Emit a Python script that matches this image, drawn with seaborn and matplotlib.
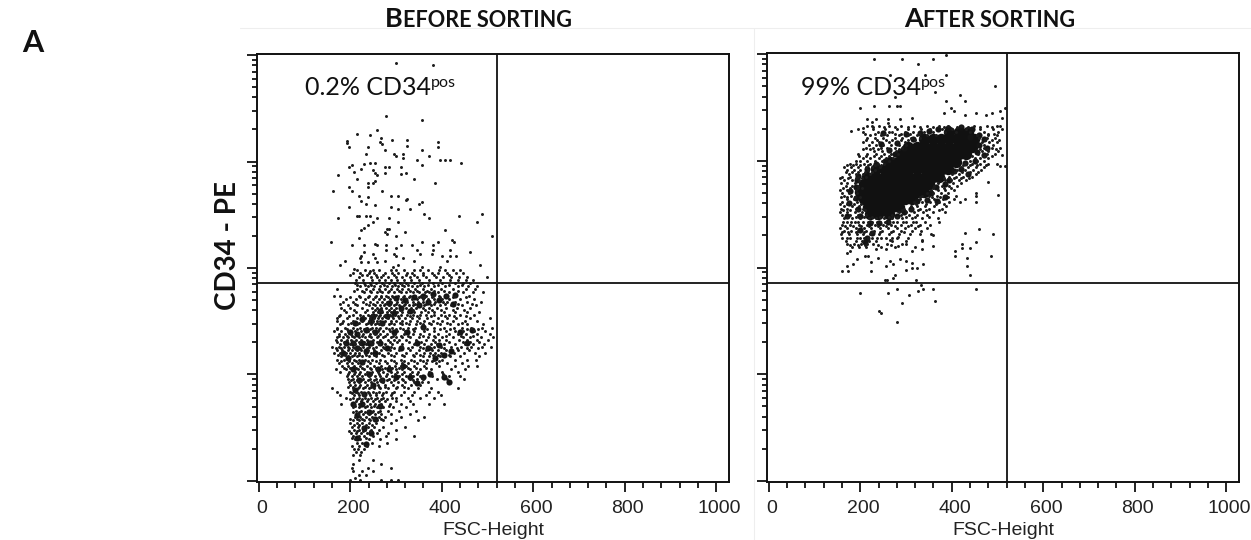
import matplotlib
matplotlib.use('Agg')
import matplotlib.pyplot as plt
import pandas as pd
import seaborn as sns
from matplotlib.lines import Line2D
from matplotlib.ticker import LogLocator, NullFormatter
from matplotlib.transforms import ScaledTranslation

# values: FSC-Height channel, log10 of CD34-PE
before_sparse = [(299,3.93),(381,3.91),(279,3.43),(356,3.39),(259,3.30),(214,3.26),(244,3.25),(193,3.19),(193,3.17),(198,3.14),
    (267,3.22),(292,3.20),(325,3.20),(325,3.15),(391,3.18),(391,3.14),(264,3.18),(270,3.16),(275,3.11),(239,3.14),(356,3.11),
    (234,3.07),(295,3.07),(300,3.05),(315,3.07),(315,3.03),(371,3.05),(345,3.01),(356,2.97),(396,3.01),(407,3.01),(417,3.01),
    (442,2.99),(229,2.98),(244,2.99),(254,2.99),(203,2.97),(198,2.95),(224,2.93),(208,2.90),(249,2.92),(275,2.95),(285,2.95),
    (310,2.95),(173,2.87),(214,2.84),(254,2.89),(259,2.87),(275,2.89),(310,2.88),(321,2.89),(340,2.84),(239,2.80),(249,2.80),
    (254,2.82),(386,2.80),(198,2.76),(239,2.76),(162,2.72),(203,2.72),(270,2.72),(219,2.68),(239,2.67),(290,2.68),(305,2.68),
    (325,2.65),(224,2.63),(234,2.60),(254,2.59),(321,2.64),(356,2.62),(350,2.60),(198,2.57),(290,2.57),(305,2.55),(330,2.55),
    (173,2.47),(214,2.49),(219,2.49),(234,2.49),(244,2.49),(259,2.47),(285,2.47),(361,2.51),(371,2.47),(437,2.49),(487,2.51),
    (478,2.43),(249,2.43),(239,2.40),(229,2.38),(224,2.36),(305,2.43),(280,2.37),(285,2.37),(275,2.34),(280,2.32),(320,2.34),
    (407,2.36),(300,2.30),(219,2.28),(509,2.30),(157,2.24),(203,2.22),(229,2.22),(254,2.23),(259,2.22),(279,2.22),(310,2.22),
    (335,2.22),(356,2.24),(391,2.24),(381,2.22),(422,2.26),(427,2.24),(300,2.19),(279,2.17),(345,2.17),(381,2.17),(417,2.17),
    (462,2.15),(229,2.15),(249,2.13),(224,2.11),(221,2.09),(254,2.09),(295,2.13),(299,2.11),(353,2.13),(378,2.13),(401,2.11),
    (417,2.11),(432,2.11),(315,2.09),(188,2.07),(224,2.06),(239,2.06),(259,2.06),(275,2.07),(340,2.07),(412,2.07),(178,2.03),
    (483,2.03),(305,2.03),(356,2.01),(208,1.99),(244,1.97),(294,2.01),(396,2.01),(498,1.92)]

before_row_levels = [1.98,1.95,1.92,1.89,1.86,1.83,1.80,1.77,1.74,1.71,1.68,1.65,1.62,1.59,1.56,1.53,1.50,1.47,1.44,1.41,
    1.38,1.35,1.32,1.29,1.26,1.23,1.20,1.17,1.14,1.11,1.08,1.05,1.02,0.99,0.96,0.93,0.90,0.87,0.84,0.81,0.78,0.75,0.72,0.69,
    0.66,0.63,0.60,0.57,0.54,0.51,0.48,0.45,0.42,0.39,0.36,0.33,0.30,0.27,0.24,0.20,0.16,0.12,0.09,0.06,0.03,0.01]
before_row_fsc = [
    [215,232,250,262,290,300,318,340,352,370,395,408,425,440],
    [205,222,240,252,275,292,305,325,335,358,378,392,412,432,446],
    [218,245,258,268,282,300,312,330,345,365,388,402,420,438,455],
    [212,228,248,262,276,288,302,318,332,350,372,396,418,436,452,468],
    [210,230,242,256,270,284,296,308,322,340,356,380,400,428,446,462],
    [222,238,252,266,280,292,304,318,334,346,362,384,408,436,458,478],
    [170,215,235,250,262,275,290,302,314,326,342,358,376,398,424,452,472],
    [230,246,258,270,282,296,310,322,336,350,364,372,392,416,446,468,490],
    [165,178,220,240,256,268,278,292,304,318,330,342,354,366,380,394,410,430,460],
    [190,212,232,250,262,274,286,298,310,322,334,346,358,370,384,400,416,440,470],
    [185,205,228,244,258,270,280,290,302,314,324,336,348,360,372,386,402,412,428,456,486],
    [195,215,240,255,264,274,284,296,306,318,328,338,350,362,376,396,420,445,475],
    [180,200,225,248,258,268,278,288,300,312,322,332,344,358,372,390,410,434,462],
    [190,212,232,250,260,270,280,290,302,314,326,340,354,370,384,404,430,456,482],
    [178,205,222,238,248,256,266,276,286,298,310,324,338,352,366,382,398,416,440,470],
    [172,192,214,232,244,252,260,270,282,294,306,320,334,350,368,392,412,432,462,505],
    [170,185,205,225,240,250,258,266,276,288,300,314,330,346,362,380,400,424,450,478],
    [178,195,215,234,246,254,262,272,284,296,312,328,344,358,376,396,418,436,456,490],
    [170,188,205,222,236,248,256,266,278,292,308,326,342,360,382,404,426,444,464,488,510],
    [165,180,196,210,224,238,250,260,272,286,302,320,340,362,384,410,430,446,470,495],
    [175,188,202,216,228,242,254,266,280,298,318,336,352,372,392,416,436,452,476,505],
    [170,184,196,208,220,232,246,258,272,290,300,312,330,350,370,386,400,424,446,462,485,512],
    [168,180,192,202,212,224,236,250,266,282,296,306,322,344,366,380,394,410,438,456,478,500],
    [178,190,200,210,222,234,248,262,276,292,314,340,362,376,390,404,430,450,468,492],
    [160,175,186,196,206,216,228,240,256,272,290,312,334,352,370,384,398,420,442,464,488,508],
    [170,182,194,204,214,224,238,252,268,286,306,330,350,366,378,392,410,436,460],
    [165,178,190,200,210,220,232,246,262,282,300,322,344,362,374,386,398,426,448,472,495],
    [180,194,204,214,226,240,256,274,296,318,340,358,372,384,396,418,440,482],
    [170,186,198,208,218,232,248,266,288,310,332,352,368,382,400,430,456,474],
    [175,192,204,216,228,244,262,280,300,312,326,346,366,388,412,444],
    [182,196,208,222,236,252,268,284,298,310,322,340,362,394,428,458,478],
    [168,190,204,216,230,246,258,270,286,300,314,330,352,376,420,450],
    [178,198,210,222,236,248,260,272,288,302,318,334,348,372,400,436],
    [192,204,214,226,240,254,266,278,292,306,322,338,352,378,404,416,440],
    [196,206,216,228,242,256,270,284,298,312,330,346,360,390,412,448],
    [198,208,218,232,246,258,272,288,304,320,340,356,370],
    [200,210,222,236,248,260,276,294,312,332,352],
    [160,205,216,228,240,252,266,282,300,326,348,376,436],
    [170,200,212,224,238,250,262,278,296,318,340,372,392],
    [178,208,218,230,244,256,270,288,310,334,366,398],
    [190,206,220,232,246,258,272,292,300,326,352,384],
    [212,224,236,250,262,276,300,330],
    [180,208,218,228,242,254,268,286,310,338,372,404],
    [206,220,232,246,258,272,294,322],
    [212,224,238,250,264,282,306,344],
    [216,228,240,254,268,290,330],
    [210,222,234,248,262,276,310,362],
    [205,218,230,244,258,272,300,348],
    [200,214,226,240,256,290],
    [204,216,228,238,252,272,320],
    [208,218,232,246,262,300],
    [202,212,224,236,258,282],
    [206,218,230,250,278,340],
    [210,222,240,266,300],
    [214,226,248,280],
    [204,220,236,262],
    [208,216,230],
    [212,224],
    [206,222],
    [218,250],
    [205,268],
    [204,238,288],
    [205,225,250],
    [218,235],
    [210],
    [200,222,268,288,304]]
before_extra_levels = [1.935,1.845,1.785,1.725,1.665,1.605,1.545,1.485,1.425,1.365,1.305,1.245,1.185,1.125,1.065,1.005,0.945,0.885,
    0.825,0.765,0.705,0.645,0.585,0.525,0.465,0.405]
before_extra_fsc = [
    [200,226,236,256,272,296,322,340,360,384,415],
    [214,232,246,274,298,312,326,352,370,392,416,444],
    [208,226,244,266,284,306,330,346,368,384,404,436],
    [200,222,238,254,268,282,294,316,328,350,362,378,396,424,452],
    [178,210,234,250,276,300,320,342,366,382,408,436,466],
    [186,208,236,254,264,284,296,308,336,364,378,398,424,448],
    [176,198,228,242,262,274,292,304,330,346,376,406,426,452],
    [182,202,220,238,258,270,290,308,322,352,372,390,412,444],
    [172,192,214,230,244,262,284,300,316,336,368,396,418,456,480],
    [176,192,204,226,240,260,276,294,310,326,360,382,410,442,468],
    [172,186,206,218,230,244,258,286,302,328,354,386,416,446,462,482],
    [168,180,198,210,222,236,250,274,296,326,358,376,404,434,456,480],
    [174,188,208,220,234,252,270,290,314,336,352,380,392,416],
    [180,198,212,224,238,256,276,296,318,340,360,378,394],
    [186,200,212,226,242,256,276,292,306,326,344,366],
    [196,208,220,232,246,262,280,298,312,330,346,402],
    [202,214,224,238,252,266,280,296,316,338],
    [196,206,220,232,246,262,276,302,318],
    [204,216,228,240,256,272,292],
    [200,214,226,238,254,268,280],
    [210,222,236,252,264,284],
    [206,220,232,248,260],
    [200,214,226,240,252,268],
    [208,220,234,248],
    [198,214,228,242],
    [204,216,234]]
before_core = [(205,1.30),(215,1.38),(225,1.30),(235,1.42),(245,1.50),(255,1.40),(250,1.55),(265,1.60),(270,1.48),(280,1.55),(285,1.67),
    (295,1.58),(300,1.72),(310,1.62),(320,1.70),(330,1.60),(340,1.73),(350,1.65),(360,1.74),(370,1.68),(380,1.76),(395,1.70),
    (410,1.74),(425,1.66),(430,1.75),(185,1.20),(195,1.15),(205,1.05),(215,1.25),(225,1.12),(235,1.22),(245,1.30),(190,1.30),
    (200,1.40),(210,1.48),(225,1.52),(240,1.30),(255,1.20),(265,1.30),(280,1.25),(295,1.40),(310,1.25),(325,1.40),(210,0.85),
    (220,0.95),(230,0.82),(240,1.00),(250,0.90),(260,1.05),(270,0.95),(285,1.05),(300,0.98),(315,1.08),(330,0.98),(345,0.92),
    (360,0.98),(205,0.72),(215,0.62),(225,0.72),(240,0.65),(255,0.58),(265,0.70),(230,0.50),(245,0.45),(215,0.40),(235,0.35),
    (370,1.25),(385,1.15),(395,1.28),(405,1.18),(420,1.22),(440,1.40),(455,1.30),(465,1.42),(360,1.45),(345,1.30),(405,0.98),
    (415,0.93),(375,1.00)]

after_sparse = [(231,3.95),(291,3.95),(327,3.91),(358,3.95),(388,3.99),(266,3.80),(342,3.80),(388,3.80),(495,3.70),(276,3.60),
    (363,3.64),(419,3.62),(388,3.56),(428,3.56),(200,3.49),(231,3.51),(262,3.51),(281,3.51),(286,3.51),(516,3.49),(399,3.49),
    (404,3.47),(382,3.45),(454,3.45),(428,3.43),(505,3.47),(487,3.45),(474,3.43),(215,3.39),(235,3.39),(261,3.39),(261,3.35),
    (312,3.40),(286,3.39),(180,3.28),(205,3.31),(225,3.36),(225,3.33),(509,3.40),(509,3.05),(516,2.95),(505,2.95),(500,2.68),
    (479,2.80),(454,2.70),(454,2.67),(452,2.61),(428,2.32),(459,2.36),(490,2.31),(423,2.22),(454,2.24),(408,2.15),(423,2.18),
    (439,2.18),(408,2.11),(434,2.09),(485,2.11),(434,2.01),(439,1.93),(454,1.80),(200,1.76),(261,1.76),(281,1.80),(307,1.74),
    (327,1.78),(337,1.80),(358,1.80),(291,1.67),(363,1.69),(241,1.59),(246,1.57),(281,1.49),(332,1.84),(322,1.88),(254,1.88),
    (259,1.88),(276,1.93),(272,1.90),(159,1.97),(174,1.97),(170,2.01),(184,2.03),(224,1.97),(224,2.05),(257,2.01),(272,2.03),
    (301,1.98),(312,2.00),(323,2.00),(337,2.03),(312,2.04),(301,2.06),(286,2.08),(265,2.06),(239,2.09),(217,2.11),(210,2.11),
    (192,2.08),(177,2.15),(170,2.14),(235,2.17),(257,2.17),(283,2.20),(312,2.15),(334,2.17),(358,2.20),(358,2.30),(334,2.26),
    (301,2.22),(265,2.26),(283,2.29)]

after_row_levels = [3.33,3.30,3.27,3.24,3.21,3.18,3.15,3.12,3.09,3.06,3.03,3.00,2.97,2.94,2.91,2.88,2.85,2.82,2.79,2.76,2.73,
    2.70,2.67,2.64,2.61,2.58,2.55,2.52,2.49,2.46,2.43,2.40,2.37,2.34,2.31,2.28,2.25,2.22,2.19]
after_row_fsc = [
    [215,240,262,290,318,345,372,392,420,448,478,498,505],
    [195,228,255,280,305,332,352,378,400,432,462,490,510],
    [205,238,262,270,298,316,340,360,385,410,440,470,500],
    [222,245,258,285,305,325,345,365,455,480,498],
    [215,232,250,275,292,310,330,460,478,495],
    [205,225,240,262,280,298,465,482,498],
    [220,235,250,268,285,300,470,490],
    [212,228,245,258,275,292,470,488,505],
    [230,248,262,278,465,480,500],
    [195,215,235,252,268,282,458,476,494],
    [205,222,240,256,272,450,462,480],
    [190,200,215,232,248,262,440,455,470],
    [178,190,208,222,238,252,430,444,462,480,498],
    [165,180,196,212,226,242,420,436,452,470],
    [170,186,200,216,232,412,428,446,464],
    [175,190,206,222,400,416,434,452],
    [160,178,196,212,395,410,424,445],
    [165,182,198,385,398,415,432],
    [158,172,188,370,388,402,420],
    [168,182,196,362,378,394,412],
    [155,172,190,355,370,386,404],
    [160,175,192,345,360,376,392],
    [165,180,335,350,368,385,410],
    [170,186,330,345,362,380,405,430],
    [160,175,192,318,335,352,372,395,418],
    [165,182,198,310,325,342,362,388],
    [158,172,190,205,295,312,330,350,378],
    [155,170,188,204,285,300,318,338,360,385],
    [160,178,196,212,270,288,306,325,345],
    [165,182,200,218,235,252,270,292,312,335,370],
    [170,188,206,226,244,262,280,300,322,342,372],
    [160,178,198,214,232,250,268,288,310,330,352],
    [155,172,190,208,224,244,260,280,298,320,345],
    [165,180,196,212,230,248,272,290,312,332],
    [158,176,192,205,222,240,262,285,308,330,355],
    [160,178,200,216,236,256,280,304],
    [168,190,204,218,234,270,300,335],
    [170,186,202,214,228,258,292],
    [182,198,212,246,275,320]]
after_extra_levels = [3.315,3.255,3.195,3.115,3.045,2.965,2.895,2.835,2.745,2.665,2.595,2.535,2.475,2.425,2.385,2.335,2.275,2.215]
after_extra_fsc = [
    [228,252,276,304,330,358,384,412,436,462,488],
    [210,232,252,276,290,308,328,480,492],
    [212,236,256,270,288,304,320,472,488,504],
    [205,222,238,266,284,462,478,496],
    [198,212,230,246,262,444,470,488],
    [170,184,200,216,232,246,424,440,456,474],
    [168,182,196,210,226,406,422,440,458],
    [156,174,190,204,382,404,420,438],
    [162,178,194,204,360,382,398],
    [158,172,188,200,330,356,374,392],
    [156,170,186,202,322,344,366,382],
    [162,178,194,210,292,308,326,344,372],
    [172,190,208,226,244,262,280,300,320,350],
    [162,180,196,216,236,254,272,294,316],
    [166,184,202,218,238,256,276,304,326],
    [160,174,190,208,226,244,268,296],
    [172,192,208,226,246,270],
    [178,194,210,238,268]]
after_mid = [(330,3.26),(350,3.28),(370,3.30),(392,3.31),(420,3.32),(445,3.30),(460,3.24),(315,3.20),(295,3.12),(275,3.06),(255,3.00),
    (235,2.97),(215,2.92),(195,2.86),(460,3.15),(455,3.08),(450,3.00),(430,2.98),(420,2.92),(405,2.90),(395,2.82),(385,2.78),
    (365,2.75),(355,2.70),(345,2.63),(325,2.62),(310,2.55),(295,2.52),(280,2.48),(260,2.43),(240,2.42),(222,2.42),(200,2.48),
    (195,2.55),(190,2.65),(190,2.75),(193,2.82),(178,2.72),(175,2.60),(170,2.48),(200,2.35),(215,2.28),(210,2.24),(225,2.32),
    (250,3.26),(245,3.16),(262,3.10),(280,3.17),(300,3.25),(440,3.22),(470,3.20),(478,3.12),(470,3.05),(435,2.88),(368,2.62),(385,2.66)]
after_core_levels = [3.27,3.20,3.13,3.06,2.99,2.92,2.85,2.78,2.71,2.64,2.57,2.50]
after_core_fsc = [
    [395,415,435],
    [340,358,376,394,412,430,448],
    [305,323,341,359,377,395,413,431,445],
    [290,308,326,344,362,380,398,416,432],
    [265,283,301,319,337,355,373,391,409],
    [235,253,271,289,307,325,343,361,379,392],
    [215,233,251,269,287,305,323,341,359,372],
    [207,225,243,261,279,297,315,333,351],
    [200,218,236,254,272,290,308,326,340],
    [208,226,244,262,280,298,312],
    [216,234,252,270,285],
    [222,238,262]]

gate_fsc = 520
gate_log = 1.859
x_major = [0, 200, 400, 600, 800, 1000]
x_minor = [40, 80, 120, 160, 240, 280, 320, 360, 440, 480, 520, 560, 640, 680, 720, 760, 840, 880, 920, 960]

sns.set_style('white')
plt.rcParams['font.family'] = ['Liberation Sans', 'DejaVu Sans']

W, H = 1251, 540
fig = plt.figure(figsize=(W / 100, H / 100), dpi=100)


def to_frame(pairs=(), levels=(), rows=()):
    points = [(fsc, 10 ** y) for fsc, y in pairs]
    for y, row in zip(levels, rows):
        points += [(fsc, 10 ** y) for fsc in row]
    return pd.DataFrame(points, columns=['FSC-Height', 'CD34-PE'])


def draw_panel(box, dots, mid, core):
    left, right, top, bottom = box
    ax = fig.add_axes([left / W, 1 - bottom / H, (right - left) / W, (bottom - top) / H])
    if len(core):
        sns.scatterplot(data=core, x='FSC-Height', y='CD34-PE', ax=ax, s=68, color='#111111', linewidth=0)
    sns.scatterplot(data=mid, x='FSC-Height', y='CD34-PE', ax=ax, s=20, color='#141414', linewidth=0)
    sns.scatterplot(data=dots, x='FSC-Height', y='CD34-PE', ax=ax, s=4.6, color='#1c1c1c', linewidth=0)
    ax.set_yscale('log')
    ax.set_xlim(-4, 1028)
    ax.set_ylim(10 ** -0.01, 10 ** 4.01)
    ax.axvline(gate_fsc, color='#111111', lw=1.3)
    ax.axhline(10 ** gate_log, color='#111111', lw=1.3)
    for s in ax.spines.values():
        s.set_linewidth(1.4)
        s.set_color('#111111')
    ax.set_xticks(x_major)
    ax.set_xticks(x_minor, minor=True)
    ax.set_yticks([1, 10, 100, 1000, 10000])
    ax.yaxis.set_minor_locator(LogLocator(base=10, subs=range(2, 10)))
    ax.yaxis.set_minor_formatter(NullFormatter())
    ax.set_yticklabels([])
    ax.tick_params(axis='x', which='major', bottom=True, length=7, width=1.3, pad=6, labelsize=14, labelcolor='#222222', color='#111111')
    ax.tick_params(axis='x', which='minor', bottom=True, length=4, width=1.3, color='#111111')
    ax.tick_params(axis='y', which='major', left=True, length=7, width=1.3, color='#111111')
    ax.tick_params(axis='y', which='minor', left=True, length=3.5, width=1.3, color='#111111')
    for label in ax.get_xticklabels():
        label.set_transform(label.get_transform() + ScaledTranslation(3 / 100, 0, fig.dpi_scale_trans))
    ax.set_xlabel('FSC-Height', fontsize=14, color='#222222', labelpad=3.5)
    ax.set_ylabel('')
    return ax


def line_of_text(x, baseline, parts):
    # small caps and the superscript are separate pieces set one after the other
    renderer = fig.canvas.get_renderer()
    for string, size, weight, raise_px in parts:
        t = fig.text(x / W, 1 - (baseline - raise_px) / H, string, fontsize=size, fontweight=weight,
                     family=['Lato', 'DejaVu Sans'], color='#111111', va='baseline', ha='left')
        x = t.get_window_extent(renderer).x1


before_dots = pd.concat([to_frame(before_sparse, before_row_levels, before_row_fsc),
                         to_frame(levels=before_extra_levels, rows=before_extra_fsc)])
after_dots = pd.concat([to_frame(after_sparse, after_row_levels, after_row_fsc),
                        to_frame(levels=after_extra_levels, rows=after_extra_fsc)])
draw_panel((257, 729, 54, 482), before_dots, to_frame(before_core), pd.DataFrame())
draw_panel((767, 1239, 53, 482), after_dots, to_frame(after_mid), to_frame(levels=after_core_levels, rows=after_core_fsc))

line_of_text(385, 27, [('B', 19.5, 'bold', 0), ('EFORE SORTING', 15.6, 'bold', 0)])
line_of_text(904, 27, [('A', 19.5, 'bold', 0), ('FTER SORTING', 15.6, 'bold', 0)])
line_of_text(305, 95, [('0.2% CD34', 18, 'normal', 0), ('pos', 11.5, 'normal', 8)])
line_of_text(801, 95, [('99% CD34', 18, 'normal', 0), ('pos', 11.5, 'normal', 8)])
fig.text(22 / W, 1 - 52 / H, 'A', fontsize=22, fontweight='bold', family=['Lato', 'DejaVu Sans'], color='#111111', va='baseline')
fig.text(228 / W, 1 - 246 / H, 'CD34 - PE', fontsize=20, fontweight='bold', family=['Lato', 'DejaVu Sans'], color='#111111',
         rotation=90, va='center', ha='center')

# faint frame lines left in the original figure
fig.add_artist(Line2D([240 / W, 1], [1 - 28 / H, 1 - 28 / H], color='#eeeeee', lw=0.8))
fig.add_artist(Line2D([754 / W, 754 / W], [1 - 28 / H, 0], color='#eeeeee', lw=0.8))

fig.savefig('out.png', dpi=100)
